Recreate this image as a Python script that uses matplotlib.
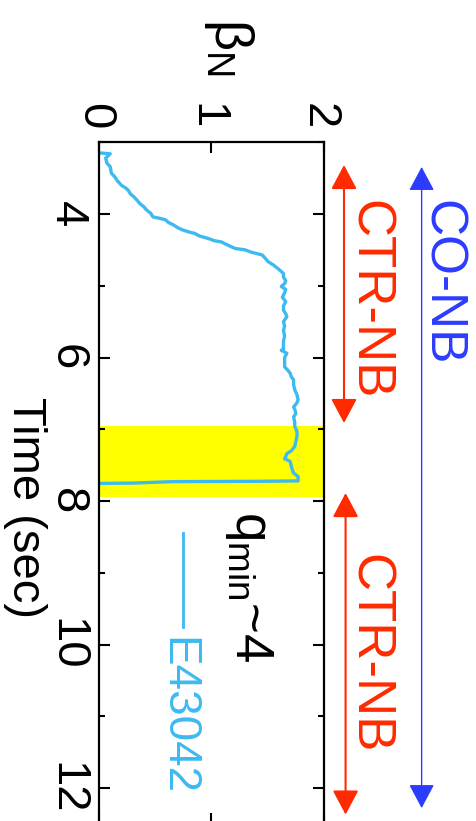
import matplotlib
matplotlib.use("Agg")
import matplotlib.pyplot as plt
from matplotlib.ticker import FixedLocator

plt.rcParams["font.family"] = ["Liberation Sans", "DejaVu Sans"]
plt.rcParams["mathtext.fontset"] = "custom"
plt.rcParams["mathtext.rm"] = "Liberation Sans"
plt.rcParams["mathtext.it"] = "Liberation Sans:italic"
plt.rcParams["mathtext.bf"] = "Liberation Sans:bold"

LINE_BLUE = "#3DBAF0"
NB_RED = "#FF2A00"
NB_BLUE = "#2B3CFF"

# shot E43042: normalised beta vs time
time_s = [3.15, 3.16, 3.22, 3.29, 3.34, 3.43, 3.48, 3.53, 3.60, 3.64, 3.67, 3.72,
          3.76, 3.81, 3.85, 3.90, 3.94, 3.99, 4.04, 4.06, 4.08, 4.12, 4.15, 4.19,
          4.22, 4.25, 4.27, 4.31, 4.34, 4.37, 4.39, 4.43, 4.48, 4.50, 4.53, 4.57,
          4.62, 4.66, 4.71, 4.76, 4.80, 4.83, 4.88, 4.93, 4.97, 5.01, 5.05, 5.10,
          5.16, 5.22, 5.28, 5.34, 5.39, 5.43, 5.50, 5.56, 5.62, 5.70, 5.77, 5.84,
          5.88, 5.90, 5.94, 6.00, 6.07, 6.13, 6.18, 6.22, 6.27, 6.31, 6.38, 6.45,
          6.52, 6.59, 6.63, 6.69, 6.72, 6.78, 6.83, 6.90, 6.96, 7.03, 7.10, 7.17,
          7.24, 7.30, 7.34, 7.38, 7.41, 7.45, 7.52, 7.57, 7.61, 7.66, 7.72, 7.725,
          7.73, 7.75, 7.755]
beta_n = [0.02, 0.10, 0.06, 0.07, 0.10, 0.11, 0.14, 0.16, 0.20, 0.24, 0.26, 0.28,
          0.31, 0.34, 0.36, 0.40, 0.42, 0.46, 0.48, 0.54, 0.59, 0.62, 0.66, 0.70,
          0.74, 0.80, 0.85, 0.90, 0.97, 1.02, 1.09, 1.14, 1.21, 1.30, 1.35, 1.45,
          1.48, 1.50, 1.55, 1.59, 1.62, 1.64, 1.64, 1.66, 1.65, 1.62, 1.66, 1.65,
          1.63, 1.66, 1.64, 1.64, 1.66, 1.67, 1.64, 1.65, 1.64, 1.65, 1.64, 1.64,
          1.64, 1.62, 1.67, 1.65, 1.65, 1.65, 1.68, 1.70, 1.71, 1.73, 1.73, 1.74,
          1.76, 1.77, 1.76, 1.73, 1.74, 1.75, 1.73, 1.74, 1.74, 1.76, 1.76, 1.75,
          1.74, 1.71, 1.67, 1.66, 1.65, 1.70, 1.71, 1.72, 1.73, 1.77, 1.77, 1.45,
          0.66, 0.30, 0.00]

highlight = (6.95, 7.95)
time_ticks = [4, 6, 8, 10, 12]
time_minor = [3, 5, 7, 9, 11]
beta_ticks = [0, 1, 2]

# beam phases: (start, end) in seconds
ctr_nb_1 = (3.317, 6.913)
ctr_nb_2 = (7.889, 12.37)
co_nb = (3.344, 12.28)

fig = plt.figure(figsize=(4.77, 8.21), dpi=100)
ax = fig.add_axes([0.2075, -0.0035, 0.4717, 0.8302])

ax.axhspan(*highlight, color="#FFFF00", lw=0, zorder=0)
ax.plot(beta_n, time_s, color=LINE_BLUE, lw=2.4, zorder=2)

ax.set_xlim(0, 2)
ax.set_ylim(12.5, 3)

for sp in ax.spines.values():
    sp.set_linewidth(1.6)

ax.set_xticks(beta_ticks)
ax.set_xticklabels([str(v) for v in beta_ticks], rotation=-90,
                   rotation_mode="anchor", ha="right", va="center_baseline")
ax.set_yticks(time_ticks)
ax.set_yticklabels([str(v) for v in time_ticks], rotation=-90,
                   rotation_mode="anchor", ha="center", va="top")
ax.yaxis.set_minor_locator(FixedLocator(time_minor))
ax.tick_params(axis="x", which="major", direction="in", length=8, width=1.5,
               top=True, bottom=True, labeltop=True, labelbottom=False,
               labelsize=34, pad=9.5)
ax.tick_params(axis="y", which="major", direction="in", length=8, width=1.5,
               left=True, right=True, labelsize=34, pad=7.5)
ax.tick_params(axis="y", which="minor", direction="in", length=4.5, width=1.5,
               left=True, right=True)

ax.set_xlabel(r"$\mathrm{\beta_N}$", fontsize=39, rotation=-90,
              rotation_mode="anchor", ha="left", va="baseline")
ax.xaxis.set_label_position("top")
ax.xaxis.set_label_coords(0.516, 1.182)

ax.set_ylabel("Time (sec)", fontsize=34, rotation=-90,
              rotation_mode="anchor", ha="left", va="baseline")
ax.yaxis.set_label_coords(-0.382, 0.626)

rot = dict(rotation=-90, rotation_mode="anchor", ha="left", va="baseline")

ax.text(1.218, 8.14, r"$\mathrm{q_{min}}$~4", fontsize=38, **rot)

# legend entry
ax.plot([0.75, 0.75], [8.45, 9.76], color=LINE_BLUE, lw=2.0)
ax.text(0.587, 9.89, "E43042", color=LINE_BLUE, fontsize=33, **rot)

# beam timing arrows to the right of the axes
side = ax.get_yaxis_transform()


def phase_arrow(x, span, color, lw):
    ax.annotate("", xy=(x, span[0]), xytext=(x, span[1]), xycoords=side,
                annotation_clip=False,
                arrowprops=dict(arrowstyle="<|-|>,head_length=15,head_width=8",
                                mutation_scale=1, color=color, lw=lw,
                                shrinkA=0, shrinkB=0))


phase_arrow(1.089, ctr_nb_1, NB_RED, 1.5)
phase_arrow(1.096, ctr_nb_2, NB_RED, 1.5)
phase_arrow(1.434, co_nb, NB_BLUE, 1.0)

ax.text(1.138, 3.80, "CTR-NB", color=NB_RED, fontsize=38, transform=side,
        clip_on=False, **rot)
ax.text(1.138, 8.74, "CTR-NB", color=NB_RED, fontsize=38, transform=side,
        clip_on=False, **rot)
ax.text(1.462, 3.80, "CO-NB", color=NB_BLUE, fontsize=37, transform=side,
        clip_on=False, **rot)

fig.savefig("out.png", dpi=100)
